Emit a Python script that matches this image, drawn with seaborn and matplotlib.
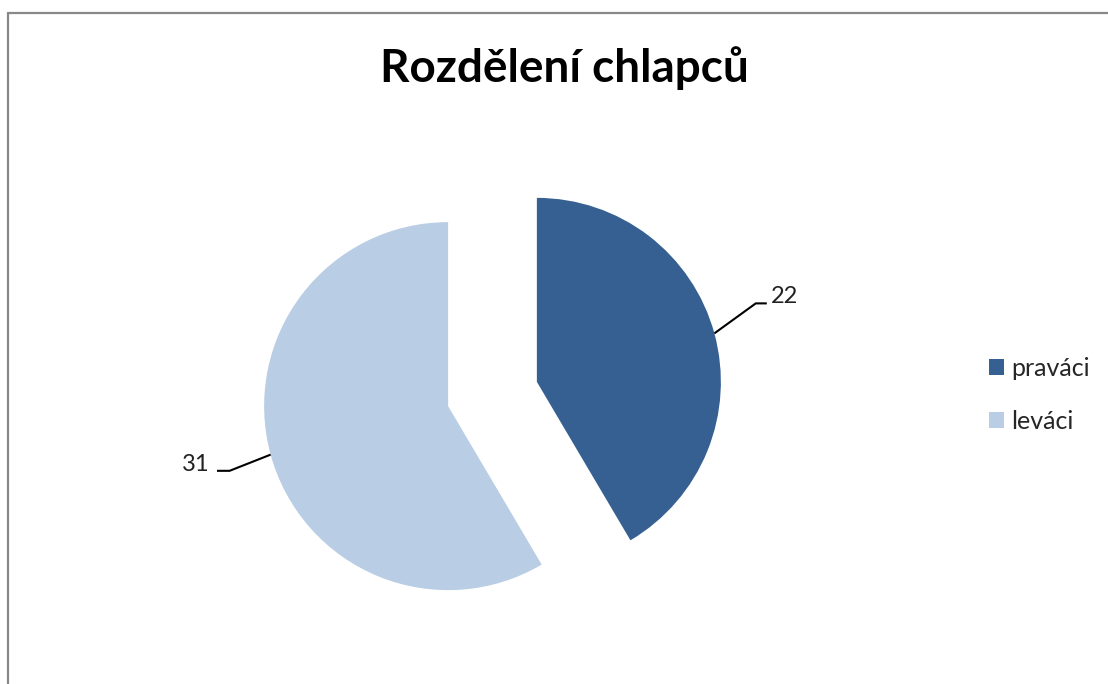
"""Pie chart of boys split into right- and left-handed, saved as out.png."""

import numpy as np
import matplotlib.pyplot as plt
import seaborn as sns
from matplotlib.lines import Line2D
from matplotlib.patches import Patch

title = "Rozdělení chlapců"
categories = ["praváci", "leváci"]
values = [22, 31]
colors = ["#376092", "#b9cde5"]

sns.set_theme(style="white")
plt.rcParams["font.family"] = ["Lato", "DejaVu Sans"]

W, H = 1108, 684
fig = plt.figure(figsize=(W / 100, H / 100), dpi=100)

# pie centre and radius in pixels, axes spans [-1.5, 1.5] around it
cx, cy, r = 492.5, 394, 184
half = 1.5 * r
ax = fig.add_axes([(cx - half) / W, (H - cy - half) / H, 2 * half / W, 2 * half / H])

explode = [0.25, 0.25]
wedges, _ = ax.pie(values, colors=colors, startangle=90, counterclock=False,
                   explode=explode, wedgeprops=dict(linewidth=0))
ax.set_xlim(-1.5, 1.5)
ax.set_ylim(-1.5, 1.5)
ax.set_aspect("equal")
ax.axis("off")

# data labels with elbow leader lines: (elbow dx, elbow dy, flat length, text gap)
leaders = [(0.225, 0.163, 0.06, 0.022), (-0.223, -0.088, 0.076, 0.033)]
for w, val, ex, (dx, dy, flat, gap) in zip(wedges, values, explode, leaders):
    ang = np.deg2rad((w.theta1 + w.theta2) / 2)
    ux, uy = np.cos(ang), np.sin(ang)
    x0, y0 = ex * ux + ux, ex * uy + uy
    x1, y1 = x0 + dx, y0 + dy
    side = 1 if ux > 0 else -1
    x2 = x1 + side * flat
    ax.plot([x0, x1, x2], [y0, y1, y1], color="black", lw=1.5, solid_capstyle="butt")
    ax.text(x2 + side * gap, y1 + 0.035, str(val), fontsize=17,
            ha="left" if side > 0 else "right", va="center", color="#222222")

fig.text(564 / W, 1 - 82 / H, title, ha="center", va="baseline",
         fontsize=33, fontweight="bold", color="black")

handles = [Patch(facecolor=c, edgecolor="none") for c in colors]
fig.legend(handles, categories, loc="center left", bbox_to_anchor=(989 / W, 1 - 395 / H),
           frameon=False, fontsize=18, handlelength=0.6, handleheight=0.6,
           handletextpad=0.3, labelspacing=1.2, borderpad=0, borderaxespad=0)

# chart frame (only top and left edges are visible in the crop)
fig.add_artist(Line2D([8 / W, 8 / W], [0, 1 - 13 / H], color="#888888", lw=1.6))
fig.add_artist(Line2D([8 / W, 1], [1 - 13 / H, 1 - 13 / H], color="#888888", lw=1.6))

fig.savefig("out.png", dpi=100)
